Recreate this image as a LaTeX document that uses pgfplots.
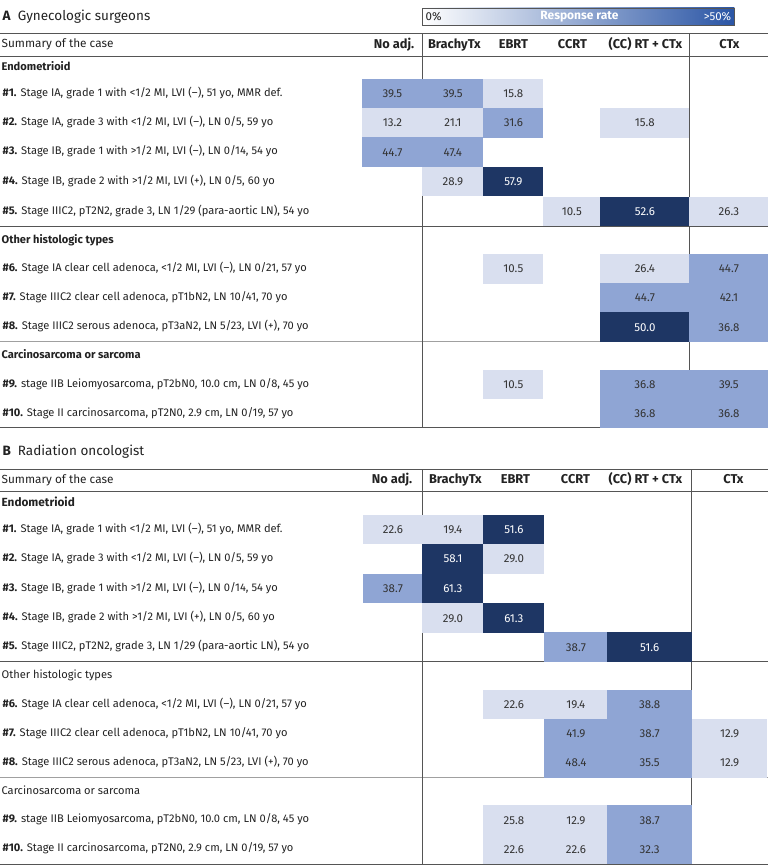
\documentclass[border=0pt]{standalone}
\usepackage{pgfplots}
\pgfplotsset{compat=1.18}
\usepackage{pgfplotstable}
\usepackage{fontspec}
\setmainfont{Fira Sans}
\definecolor{lightc}{HTML}{D9DFEF}
\definecolor{midc}{HTML}{8FA5D4}
\definecolor{darkc}{HTML}{1E3664}
\definecolor{txt}{HTML}{333333}
\definecolor{ink}{HTML}{222222}
\definecolor{lineA}{HTML}{555555}
\definecolor{lineB}{HTML}{A0A0A0}
\definecolor{legR}{HTML}{2A55A5}

% class 1 = light (<30), 2 = medium (30-50), 3 = dark (>=50)
\pgfdeclareplotmark{cell}{%
  \pgfmathtruncatemacro\kcls{\ccls}%
  \ifcase\kcls\or\pgfsetfillcolor{lightc}\or\pgfsetfillcolor{midc}\or\pgfsetfillcolor{darkc}\fi
  \pgfpathrectangle{\pgfpoint{-0.5*\cw pt}{-14.8pt}}{\pgfpoint{\cw pt}{29.6pt}}%
  \pgfusepathqfill}

% Panel A: x-centre, y-centre, width, value, class
\pgfplotstableread{
x y w val cls
392 93.8 60 39.5 2
452.5 93.8 61 39.5 2
513 93.8 60 15.8 1
392 123 60 13.2 1
452.5 123 61 21.1 1
513 123 60 31.6 2
644.5 123 89 15.8 1
392 152.2 60 44.7 2
452.5 152.2 61 47.4 2
452.5 181.7 61 28.9 1
513 181.7 60 57.9 3
571.5 211.7 57 10.5 1
644.5 211.7 89 52.6 3
728.5 211.7 79 26.3 1
513 268.7 60 10.5 1
644.5 268.7 89 26.4 1
728.5 268.7 79 44.7 2
644.5 297.9 89 44.7 2
728.5 297.9 79 42.1 2
644.5 327.1 89 50.0 3
728.5 327.1 79 36.8 2
513 384.5 60 10.5 1
644.5 384.5 89 36.8 2
728.5 384.5 79 39.5 2
644.5 413.5 89 36.8 2
728.5 413.5 79 36.8 2
}\tabA

% Panel B
\pgfplotstableread{
x y w val cls
392.5 529.5 59 22.6 1
452.5 529.5 61 19.4 1
513.5 529.5 61 51.6 3
452.5 558.7 61 58.1 3
513.5 558.7 61 29.0 1
392.5 588.4 59 38.7 2
452.5 588.4 61 61.3 3
452.5 618 61 29.0 1
513.5 618 61 61.3 3
575.5 647.2 63 38.7 2
649.25 647.2 84.5 51.6 3
513.5 704.5 61 22.6 1
575.5 704.5 63 19.4 1
649.25 704.5 84.5 38.8 2
575.5 733.7 63 41.9 2
649.25 733.7 84.5 38.7 2
729.25 733.7 75.5 12.9 1
575.5 762.8 63 48.4 2
649.25 762.8 84.5 35.5 2
729.25 762.8 75.5 12.9 1
513.5 820.2 61 25.8 1
575.5 820.2 63 12.9 1
649.25 820.2 84.5 38.7 2
513.5 849.2 61 22.6 1
575.5 849.2 63 22.6 1
649.25 849.2 84.5 32.3 2
}\tabB

\newcommand\rowfont{\fontsize{11.1}{13}\selectfont}
\newcommand\Ri{\textbf{\#1.} Stage IA, grade 1 with <1/2 MI, LVI (–), 51 yo, MMR def.}
\newcommand\Rii{\textbf{\#2.} Stage IA, grade 3 with <1/2 MI, LVI (–), LN 0/5, 59 yo}
\newcommand\Riii{\textbf{\#3.} Stage IB, grade 1 with >1/2 MI, LVI (–), LN 0/14, 54 yo}
\newcommand\Riv{\textbf{\#4.} Stage IB, grade 2 with >1/2 MI, LVI (+), LN 0/5, 60 yo}
\newcommand\Rv{\textbf{\#5.} Stage IIIC2, pT2N2, grade 3, LN 1/29 (para-aortic LN), 54 yo}
\newcommand\Rvi{\textbf{\#6.} Stage IA clear cell adenoca, <1/2 MI, LVI (–), LN 0/21, 57 yo}
\newcommand\Rvii{\textbf{\#7.} Stage IIIC2 clear cell adenoca, pT1bN2, LN 10/41, 70 yo}
\newcommand\Rviii{\textbf{\#8.} Stage IIIC2 serous adenoca, pT3aN2, LN 5/23, LVI (+), 70 yo}
\newcommand\Rix{\textbf{\#9.} stage IIB Leiomyosarcoma, pT2bN0, 10.0 cm, LN 0/8, 45 yo}
\newcommand\Rx{\textbf{\#10.} Stage II carcinosarcoma, pT2N0, 2.9 cm, LN 0/19, 57 yo}

\tikzset{
  lab/.style={anchor=west, inner sep=0pt, text height=8pt, text depth=2.5pt, font=\rowfont, text=ink},
  hd/.style={inner sep=0pt, text height=9pt, text depth=2.5pt, font=\fontsize{12.8}{14}\selectfont\bfseries, text=ink},
  ttl/.style={anchor=west, inner sep=0pt, text height=9pt, text depth=2.5pt, font=\fontsize{13.5}{15}\selectfont, text=ink},
  smry/.style={anchor=west, inner sep=0pt, text height=8.5pt, text depth=2.5pt, font=\fontsize{11.8}{13}\selectfont, text=ink},
}
\pgfplotsset{
  cellplot/.style={only marks, mark=cell,
    visualization depends on={\thisrow{w}\as\cw},
    visualization depends on={\thisrow{cls}\as\ccls},
    point meta=explicit,
    nodes near coords={\pgfmathtruncatemacro\kcls{\ccls}\ifnum\kcls=3 \color{white}\else\color{txt}\fi\pgfmathprintnumber[fixed,fixed zerofill,precision=1]{\pgfplotspointmeta}},
    every node near coord/.append style={anchor=center, inner sep=0pt, text height=8pt, text depth=0pt, font=\fontsize{11.5}{13}\selectfont}},
}

\begin{document}
\begin{tikzpicture}
\begin{axis}[
  width=768pt, height=866pt, scale only axis,
  xmin=0, xmax=768, ymin=0, ymax=866, y dir=reverse,
  axis lines=none, ticks=none, clip=false,
  /pgf/number format/assume math mode=true,
]
\path (axis cs:0,0) rectangle (axis cs:768,866);

% cells
\addplot[cellplot] table[x=x, y=y, meta=val] {\tabA};
\addplot[cellplot] table[x=x, y=y, meta=val] {\tabB};

% ---------- Panel A ----------
\node[ttl] at (axis cs:2,17) {\textbf{A}\hspace{7pt}Gynecologic surgeons};
\shade[left color=white, right color=legR] (axis cs:422,8) rectangle (axis cs:734,25);
\draw[lineA, line width=0.6pt] (axis cs:422,8) rectangle (axis cs:734,25);
\node[anchor=west, inner sep=0pt, font=\fontsize{11.5}{13}\selectfont, text=ink] at (axis cs:425,16.5) {0\%};
\node[inner sep=0pt, font=\fontsize{12}{13}\selectfont\bfseries, text=white] at (axis cs:579,16.5) {Response rate};
\node[anchor=east, inner sep=0pt, font=\fontsize{11.5}{13}\selectfont, text=white] at (axis cs:731,16.5) {>50\%};

\draw[lineA, line width=0.8pt] (axis cs:0,33.3) -- (axis cs:768,33.3);
\draw[lineA, line width=0.8pt] (axis cs:0,56.7) -- (axis cs:768,56.7);
\draw[lineA, line width=0.8pt] (axis cs:0,226.7) -- (axis cs:768,226.7);
\draw[lineB, line width=0.8pt] (axis cs:0,341.7) -- (axis cs:768,341.7);
\draw[lineA, line width=0.8pt] (axis cs:0,427.7) -- (axis cs:768,427.7);
\draw[lineA, line width=0.8pt] (axis cs:422.3,33.3) -- (axis cs:422.3,427.7);
\draw[lineA, line width=0.8pt] (axis cs:689,33.3) -- (axis cs:689,427.7);

\node[smry] at (axis cs:1,45) {Summary of the case};
\node[hd, anchor=east] at (axis cs:414,45) {No adj.};
\node[hd] at (axis cs:454,45) {BrachyTx};
\node[hd] at (axis cs:513,45) {EBRT};
\node[hd] at (axis cs:572,45) {CCRT};
\node[hd] at (axis cs:645,45) {(CC) RT + CTx};
\node[hd] at (axis cs:729,45) {CTx};

\node[lab, font=\rowfont\bfseries] at (axis cs:1,67.5) {Endometrioid};
\node[lab] at (axis cs:2,93.8) {\Ri};
\node[lab] at (axis cs:2,123) {\Rii};
\node[lab] at (axis cs:2,152.2) {\Riii};
\node[lab] at (axis cs:2,181.7) {\Riv};
\node[lab] at (axis cs:2,211.7) {\Rv};
\node[lab, font=\rowfont\bfseries] at (axis cs:1,240.3) {Other histologic types};
\node[lab] at (axis cs:2,268.7) {\Rvi};
\node[lab] at (axis cs:2,297.9) {\Rvii};
\node[lab] at (axis cs:2,327.1) {\Rviii};
\node[lab, font=\rowfont\bfseries] at (axis cs:1,356) {Carcinosarcoma or sarcoma};
\node[lab] at (axis cs:2,384.5) {\Rix};
\node[lab] at (axis cs:2,413.5) {\Rx};

% ---------- Panel B ----------
\node[ttl] at (axis cs:2,452) {\textbf{B}\hspace{7pt}Radiation oncologist};

\draw[lineA, line width=0.8pt] (axis cs:0,469) -- (axis cs:768,469);
\draw[lineA, line width=0.8pt] (axis cs:0,491.7) -- (axis cs:768,491.7);
\draw[lineA, line width=0.8pt] (axis cs:0,661.7) -- (axis cs:768,661.7);
\draw[lineB, line width=0.8pt] (axis cs:0,777.3) -- (axis cs:768,777.3);
\draw[lineA, line width=0.8pt] (axis cs:0,864.5) -- (axis cs:768,864.5);
\draw[lineA, line width=0.8pt] (axis cs:422.3,469) -- (axis cs:422.3,864.5);
\draw[lineA, line width=0.8pt] (axis cs:691.3,469) -- (axis cs:691.3,864.5);

\node[smry] at (axis cs:1,480.5) {Summary of the case};
\node[hd, anchor=east] at (axis cs:412,480.5) {No adj.};
\node[hd] at (axis cs:455,480.5) {BrachyTx};
\node[hd] at (axis cs:515,480.5) {EBRT};
\node[hd] at (axis cs:575,480.5) {CCRT};
\node[hd] at (axis cs:645,480.5) {(CC) RT + CTx};
\node[hd] at (axis cs:733,480.5) {CTx};

\node[lab, font=\fontsize{11.8}{13}\selectfont\bfseries] at (axis cs:1,503.5) {Endometrioid};
\node[lab] at (axis cs:2,529.5) {\Ri};
\node[lab] at (axis cs:2,558.7) {\Rii};
\node[lab] at (axis cs:2,588.4) {\Riii};
\node[lab] at (axis cs:2,618) {\Riv};
\node[lab] at (axis cs:2,647.2) {\Rv};
\node[lab] at (axis cs:1,676) {Other histologic types};
\node[lab] at (axis cs:2,704.5) {\Rvi};
\node[lab] at (axis cs:2,733.7) {\Rvii};
\node[lab] at (axis cs:2,762.8) {\Rviii};
\node[lab] at (axis cs:1,791.5) {Carcinosarcoma or sarcoma};
\node[lab] at (axis cs:2,820.2) {\Rix};
\node[lab] at (axis cs:2,849.2) {\Rx};
\end{axis}
\end{tikzpicture}
\end{document}
